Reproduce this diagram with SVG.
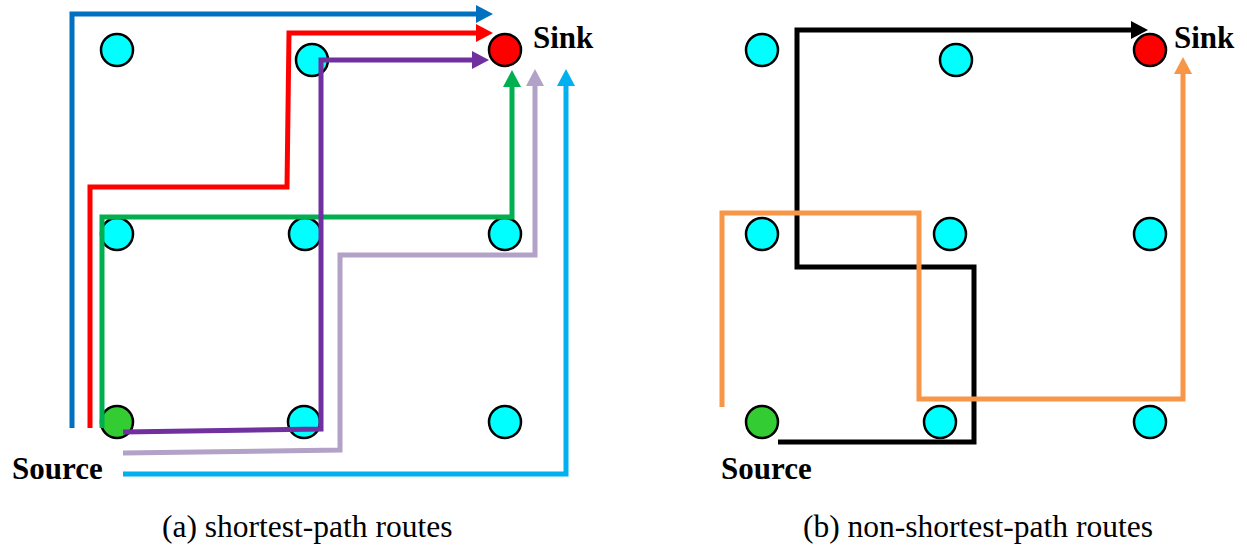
<svg xmlns="http://www.w3.org/2000/svg" width="1247" height="548" viewBox="0 0 1247 548">
  <style>
    .route { fill: none; stroke-width: 5; stroke-linejoin: miter; stroke-linecap: butt; }
    .node { stroke: #000; stroke-width: 2.5; }
    .relay { fill: #00FFFF; }
    .src { fill: #33CC33; }
    .sink { fill: #FF0000; }
    .lbl { font-family: "Liberation Serif", "Times New Roman", serif; font-weight: bold; font-size: 31px; fill: #000; }
    .cap { font-family: "Liberation Serif", "Times New Roman", serif; font-size: 31.5px; fill: #000; }
  </style>
  <defs>
    <marker id="ah-blue" markerUnits="userSpaceOnUse" viewBox="0 0 17 18" refX="0" refY="9" markerWidth="17" markerHeight="18" orient="auto"><path d="M0,0 L17,9 L0,18 z" fill="#0070C0"/></marker>
    <marker id="ah-red" markerUnits="userSpaceOnUse" viewBox="0 0 17 18" refX="0" refY="9" markerWidth="17" markerHeight="18" orient="auto"><path d="M0,0 L17,9 L0,18 z" fill="#FF0000"/></marker>
    <marker id="ah-purple" markerUnits="userSpaceOnUse" viewBox="0 0 17 18" refX="0" refY="9" markerWidth="17" markerHeight="18" orient="auto"><path d="M0,0 L17,9 L0,18 z" fill="#7030A0"/></marker>
    <marker id="ah-green" markerUnits="userSpaceOnUse" viewBox="0 0 17 18" refX="0" refY="9" markerWidth="17" markerHeight="18" orient="auto"><path d="M0,0 L17,9 L0,18 z" fill="#00B050"/></marker>
    <marker id="ah-lav" markerUnits="userSpaceOnUse" viewBox="0 0 17 18" refX="0" refY="9" markerWidth="17" markerHeight="18" orient="auto"><path d="M0,0 L17,9 L0,18 z" fill="#B3A2C7"/></marker>
    <marker id="ah-sky" markerUnits="userSpaceOnUse" viewBox="0 0 17 18" refX="0" refY="9" markerWidth="17" markerHeight="18" orient="auto"><path d="M0,0 L17,9 L0,18 z" fill="#00B0F0"/></marker>
    <marker id="ah-black" markerUnits="userSpaceOnUse" viewBox="0 0 17 18" refX="0" refY="9" markerWidth="17" markerHeight="18" orient="auto"><path d="M0,0 L17,9 L0,18 z" fill="#000"/></marker>
    <marker id="ah-orange" markerUnits="userSpaceOnUse" viewBox="0 0 17 18" refX="0" refY="9" markerWidth="17" markerHeight="18" orient="auto"><path d="M0,0 L17,9 L0,18 z" fill="#F79646"/></marker>
  </defs>

  <!-- (a) grid nodes -->
  <g id="a-n11"><circle class="node relay" cx="117" cy="50" r="16"/></g>
  <g id="a-n12"><circle class="node relay" cx="312" cy="60" r="16"/></g>
  <g id="a-sink"><circle class="node sink" cx="505" cy="50" r="16"/><text class="lbl" x="533" y="48">Sink</text></g>
  <g id="a-n21"><circle class="node relay" cx="117" cy="234" r="16"/></g>
  <g id="a-n22"><circle class="node relay" cx="305" cy="234" r="16"/></g>
  <g id="a-n23"><circle class="node relay" cx="505" cy="234" r="16"/></g>
  <g id="a-source"><circle class="node src" cx="117" cy="422" r="16"/><text class="lbl" x="12" y="479">Source</text></g>
  <g id="a-n32"><circle class="node relay" cx="304" cy="422" r="16"/></g>
  <g id="a-n33"><circle class="node relay" cx="505" cy="422" r="16"/></g>

  <!-- (b) grid nodes -->
  <g id="b-n11"><circle class="node relay" cx="762" cy="50" r="16"/></g>
  <g id="b-n12"><circle class="node relay" cx="956" cy="60" r="16"/></g>
  <g id="b-sink"><circle class="node sink" cx="1150" cy="50" r="16"/><text class="lbl" x="1174" y="48">Sink</text></g>
  <g id="b-n21"><circle class="node relay" cx="762" cy="234" r="16"/></g>
  <g id="b-n22"><circle class="node relay" cx="950" cy="234" r="16"/></g>
  <g id="b-n23"><circle class="node relay" cx="1150" cy="234" r="16"/></g>
  <g id="b-source"><circle class="node src" cx="762" cy="422" r="16"/><text class="lbl" x="721" y="479">Source</text></g>
  <g id="b-n32"><circle class="node relay" cx="940" cy="422" r="16"/></g>
  <g id="b-n33"><circle class="node relay" cx="1150" cy="422" r="16"/></g>

  <!-- routes -->
  <g id="connectors">
    <path class="route" stroke="#0070C0" d="M72,428 L72,14 L476,14" marker-end="url(#ah-blue)"/>
    <path class="route" stroke="#FF0000" d="M90,428 L90,187 L287,187 L289,33 L476,33" marker-end="url(#ah-red)"/>
    <path class="route" stroke="#00B050" d="M102,428 L102,217 L512,217 L512,87" marker-end="url(#ah-green)"/>
    <path class="route" stroke="#B3A2C7" d="M123,453 L340,450 L340,255 L535,255 L535,86" marker-end="url(#ah-lav)"/>
    <path class="route" stroke="#00B0F0" d="M123,474 L566,474 L566,86" marker-end="url(#ah-sky)"/>
    <path class="route" stroke="#7030A0" d="M123,432 L321,429 L321,60 L472,60" marker-end="url(#ah-purple)"/>

    <path class="route" stroke="#000" stroke-width="6" d="M778,442 L974,442 L974,267 L797,267 L797,30 L1131,30" marker-end="url(#ah-black)"/>
    <path class="route" stroke="#F79646" d="M722,407 L722,213 L919,213 L919,399 L1183,399 L1183,74" marker-end="url(#ah-orange)"/>
  </g>

  <!-- captions -->
  <text class="cap" x="162" y="537">(a) shortest-path routes</text>
  <text class="cap" x="803" y="537">(b) non-shortest-path routes</text>
</svg>
